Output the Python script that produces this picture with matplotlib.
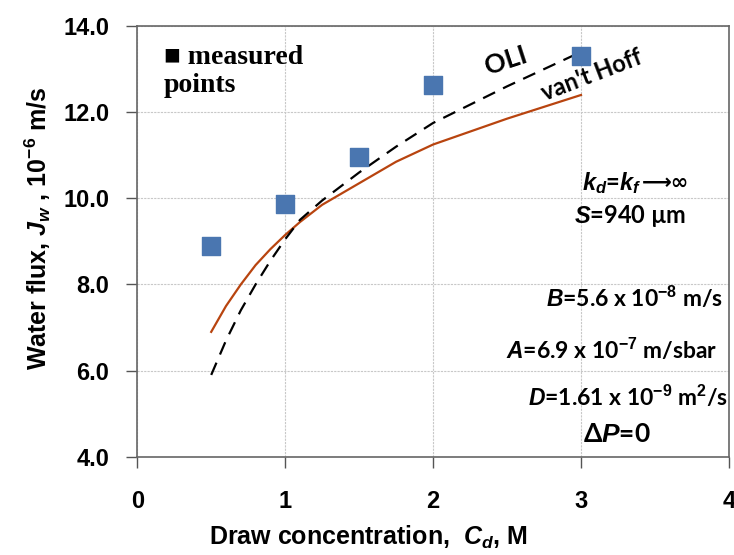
import matplotlib
matplotlib.use('Agg')
import matplotlib.pyplot as plt

# measured points
cd_meas = [0.5, 1.0, 1.5, 2.0, 3.0]
jw_meas = [8.9, 9.87, 10.97, 12.63, 13.3]

# model curves
cd_vh = [0.5, 0.6, 0.7, 0.8, 0.9, 1.0, 1.1, 1.25, 1.5, 1.75, 2.0, 2.5, 3.0]
jw_vanthoff = [6.9, 7.5, 8.0, 8.45, 8.82, 9.15, 9.45, 9.85, 10.35, 10.85, 11.25, 11.85, 12.4]
cd_oli = [0.5, 0.6, 0.7, 0.8, 0.9, 1.0, 1.1, 1.25, 1.5, 1.75, 2.0, 2.5, 3.0]
jw_oli = [5.9, 6.7, 7.4, 8.0, 8.55, 9.05, 9.5, 9.95, 10.6, 11.2, 11.75, 12.6, 13.4]

xticks = [0, 1, 2, 3, 4]
yticks = [4.0, 6.0, 8.0, 10.0, 12.0, 14.0]

plt.rcParams['font.family'] = ['Liberation Sans', 'DejaVu Sans']
plt.rcParams['font.weight'] = 'bold'
plt.rcParams['axes.labelweight'] = 'bold'
plt.rcParams['mathtext.fontset'] = 'custom'
plt.rcParams['mathtext.rm'] = 'Liberation Sans:bold'
plt.rcParams['mathtext.it'] = 'Liberation Sans:italic:bold'
plt.rcParams['mathtext.bf'] = 'Liberation Sans:bold'

fig = plt.figure(figsize=(7.34, 5.55), dpi=100)
ax = fig.add_axes([0.187, 0.177, 0.806, 0.776])

ax.plot(cd_vh, jw_vanthoff, color='#b8440f', lw=1.6, zorder=3)
ax.plot(cd_oli, jw_oli, color='black', lw=1.6, ls=(0, (6, 4)), zorder=3)
ax.scatter(cd_meas, jw_meas, marker='s', s=150, color='#4a76b0', zorder=4)

ax.set_xlim(0, 4)
ax.set_ylim(4, 14)
ax.set_xticks(xticks, [str(v) for v in xticks])
ax.set_yticks(yticks, ['%.1f' % v for v in yticks])
ax.tick_params(axis='both', labelsize=17, direction='out', length=8, width=1, color='#555555')
ax.tick_params(axis='y', pad=12)
ax.tick_params(axis='x', pad=16)
ax.grid(True, color='#c8c8c8', ls=(0, (2, 1)), lw=0.8)
ax.set_axisbelow(True)
for s in ax.spines.values():
    s.set_color('#666666')
    s.set_linewidth(1.2)

ax.set_xlabel('Draw concentration,  $C_d$, M', fontsize=18)
ax.xaxis.set_label_coords(0.39, -0.155)
ax.set_ylabel('Water flux, $J_w$ , 10$^{-6}$ m/s', fontsize=18)
ax.yaxis.set_label_coords(-0.142, 0.53)

# labels inside the plot
ax.text(0.18, 13.55, '\u25a0 measured\npoints', fontsize=20,
        family='Liberation Serif', va='top', linespacing=1.15)
ax.text(2.49, 13.2, 'OLI', fontsize=19, family='Lato',
        rotation=18, ha='center', va='center')
ax.text(3.07, 12.86, "van't Hoff", fontsize=17, family='Lato',
        rotation=21, ha='center', va='center')

tfam = ['Lato', 'DejaVu Sans']
kd = ax.text(3.41, 10.36, '$k_d$=$k_f$', fontsize=17,
             family=tfam, ha='right', va='center')
ax.annotate('\u27f6\u221e', xy=(1, 0.5), xycoords=kd, fontsize=15,
            family='DejaVu Sans', ha='left', va='center')
ax.text(3.33, 9.6, '$S$=940 \u00b5m', fontsize=17,
        family=tfam, ha='center', va='center')
ax.text(3.96, 7.7, '$B$=5.6 x 10$^{-8}$ m/s', fontsize=16.5,
        family=tfam, ha='right', va='center')
ax.text(3.92, 6.48, '$A$=6.9 x 10$^{-7}$ m/sbar', fontsize=16.5,
        family=tfam, ha='right', va='center')
ax.text(3.995, 5.4, '$D$=1.61 x 10$^{-9}$ m$^2$/s', fontsize=16.5,
        family=tfam, ha='right', va='center')
ax.text(3.24, 4.53, '\u0394$P$=0', fontsize=19,
        family=tfam, ha='center', va='center')

fig.savefig('out.png', dpi=100)
